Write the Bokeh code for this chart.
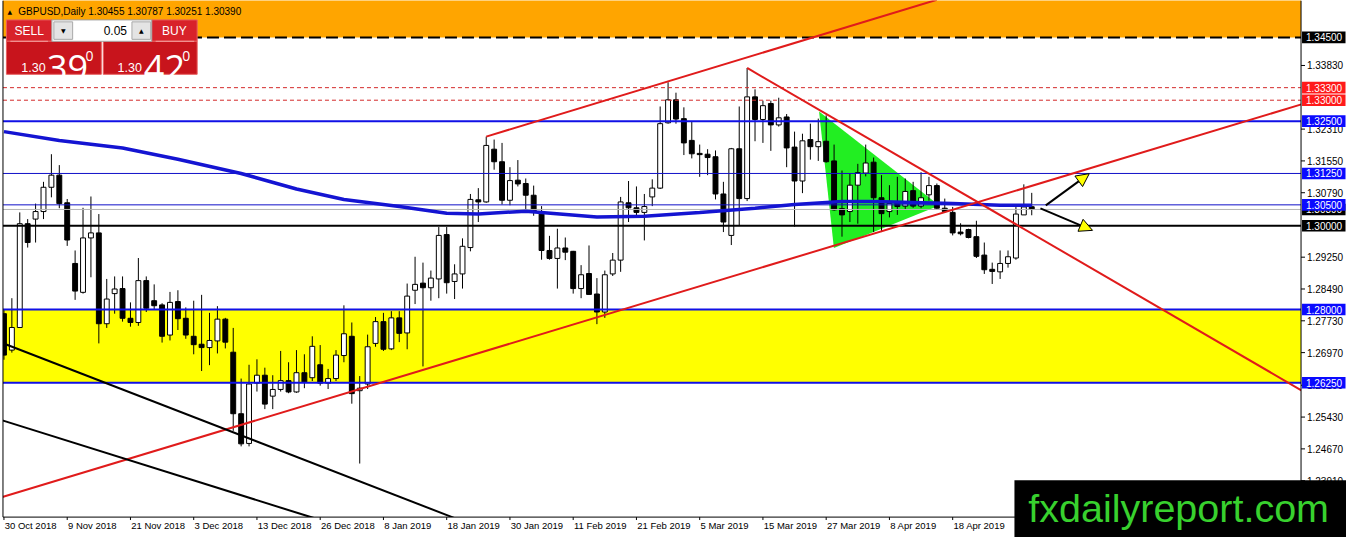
import numpy as np
from bokeh.plotting import figure
from bokeh.models import Range1d, Arrow, NormalHead
from bokeh.core.properties import value
from bokeh.embed import file_html
from bokeh.resources import INLINE

# GBPUSD daily candles, bar 0 = 30 Oct 2018
opens = [1.2790, 1.2703, 1.2757, 1.3005, 1.3016, 1.3034, 1.3092, 1.3121, 1.3055, 1.2910,
         1.2841, 1.2971, 1.2983, 1.2766, 1.2838, 1.2850, 1.2779, 1.2769, 1.2869, 1.2821,
         1.2811, 1.2739, 1.2819, 1.2779, 1.2736, 1.2717, 1.2709, 1.2725, 1.2777, 1.2698,
         1.2551, 1.2480, 1.2624, 1.2643, 1.2593, 1.2609, 1.2630, 1.2603, 1.2649, 1.2637,
         1.2668, 1.2624, 1.2635, 1.2690, 1.2736, 1.2606, 1.2622, 1.2719, 1.2771, 1.2706,
         1.2780, 1.2744, 1.2846, 1.2863, 1.2852, 1.2873, 1.2979, 1.2867, 1.2885, 1.2948,
         1.3062, 1.3057, 1.3183, 1.3153, 1.3061, 1.3109, 1.3101, 1.3073, 1.3028, 1.2941,
         1.2922, 1.2947, 1.2939, 1.2850, 1.2886, 1.2837, 1.2794, 1.2885, 1.2918, 1.3055,
         1.3043, 1.3032, 1.3069, 1.3090, 1.3246, 1.3301, 1.3256, 1.3204, 1.3173, 1.3171,
         1.3165, 1.3076, 1.2977, 1.3184, 1.3065, 1.3308, 1.3254, 1.3292, 1.3241, 1.3260,
         1.3188, 1.3107, 1.3206, 1.3189, 1.3202, 1.3155, 1.3041, 1.3034, 1.3097, 1.3126,
         1.3152, 1.3067, 1.3034, 1.3055, 1.3047, 1.3084, 1.3047, 1.3074, 1.3096, 1.3042,
         1.3032, 1.2985, 1.2991, 1.2974, 1.2930, 1.2896, 1.2890, 1.2910, 1.2923, 1.3026,
         1.30455]
highs = [1.2800, 1.2827, 1.3032, 1.3016, 1.3053, 1.3105, 1.3171, 1.3145, 1.3064, 1.2941,
         1.3043, 1.3070, 1.3028, 1.2873, 1.2879, 1.2879, 1.2817, 1.2923, 1.2879, 1.2860,
         1.2815, 1.2842, 1.2846, 1.2805, 1.2821, 1.2835, 1.2792, 1.2808, 1.2780, 1.2756,
         1.2635, 1.2668, 1.2681, 1.2661, 1.2643, 1.2701, 1.2674, 1.2703, 1.2693, 1.2736,
         1.2715, 1.2658, 1.2703, 1.2810, 1.2769, 1.2641, 1.2740, 1.2782, 1.2792, 1.2796,
         1.2796, 1.2862, 1.2926, 1.2912, 1.2893, 1.2997, 1.2997, 1.2908, 1.2970, 1.3076,
         1.3090, 1.3213, 1.3206, 1.3198, 1.3140, 1.3157, 1.3113, 1.3096, 1.3047, 1.2976,
         1.2993, 1.2972, 1.2940, 1.2906, 1.2953, 1.2875, 1.2893, 1.2935, 1.3069, 1.3107,
         1.3094, 1.3076, 1.3111, 1.3285, 1.3343, 1.3318, 1.3283, 1.3248, 1.3194, 1.3183,
         1.3180, 1.3105, 1.3186, 1.3285, 1.3377, 1.3326, 1.3299, 1.3299, 1.3306, 1.3267,
         1.3225, 1.3220, 1.3244, 1.3256, 1.3264, 1.3194, 1.3132, 1.3125, 1.3148, 1.3194,
         1.3163, 1.3121, 1.3097, 1.3117, 1.3113, 1.3105, 1.3128, 1.3117, 1.3101, 1.3065,
         1.3045, 1.3006, 1.2993, 1.3012, 1.2960, 1.2912, 1.2941, 1.2941, 1.3047, 1.3099,
         1.30787]
lows = [1.2680, 1.2697, 1.2756, 1.2948, 1.2960, 1.3016, 1.3068, 1.3042, 1.2952, 1.2823,
        1.2838, 1.2877, 1.2719, 1.2756, 1.2790, 1.2771, 1.2759, 1.2761, 1.2794, 1.2800,
        1.2721, 1.2726, 1.2751, 1.2730, 1.2693, 1.2653, 1.2667, 1.2695, 1.2707, 1.2510,
        1.2473, 1.2473, 1.2604, 1.2562, 1.2562, 1.2604, 1.2600, 1.2601, 1.2612, 1.2629,
        1.2618, 1.2610, 1.2629, 1.2674, 1.2575, 1.2432, 1.2610, 1.2711, 1.2701, 1.2703,
        1.2722, 1.2705, 1.2813, 1.2664, 1.2821, 1.2827, 1.2838, 1.2825, 1.2850, 1.2939,
        1.3009, 1.3055, 1.3134, 1.3051, 1.3049, 1.3094, 1.3036, 1.3024, 1.2919, 1.2919,
        1.2850, 1.2918, 1.2838, 1.2827, 1.2836, 1.2765, 1.2780, 1.2880, 1.2890, 1.3009,
        1.3024, 1.2965, 1.3047, 1.3088, 1.3244, 1.3244, 1.3169, 1.3161, 1.3117, 1.3121,
        1.3063, 1.2985, 1.2954, 1.3001, 1.3059, 1.3202, 1.3198, 1.3179, 1.3237, 1.3140,
        1.2998, 1.3078, 1.3158, 1.3155, 1.3151, 1.3036, 1.2974, 1.3009, 1.3005, 1.3118,
        1.2985, 1.2985, 1.3020, 1.3026, 1.3039, 1.3043, 1.3042, 1.3060, 1.3039, 1.3032,
        1.2977, 1.2977, 1.2970, 1.2923, 1.2885, 1.2861, 1.2873, 1.2900, 1.2919, 1.3026,
        1.30251]
closes = [1.2691, 1.2757, 1.3005, 1.2960, 1.3034, 1.3092, 1.3121, 1.3053, 1.2966, 1.2844,
          1.2971, 1.2983, 1.2766, 1.2825, 1.2849, 1.2779, 1.2769, 1.2869, 1.2803, 1.2809,
          1.2736, 1.2817, 1.2778, 1.2739, 1.2716, 1.2709, 1.2726, 1.2777, 1.2722, 1.2551,
          1.2479, 1.2622, 1.2643, 1.2574, 1.2609, 1.2630, 1.2603, 1.2649, 1.2627, 1.2712,
          1.2624, 1.2635, 1.2691, 1.2742, 1.2599, 1.2612, 1.2711, 1.2771, 1.2705, 1.2780,
          1.2743, 1.2832, 1.2860, 1.2852, 1.2875, 1.2977, 1.2864, 1.2885, 1.2951, 1.3063,
          1.3057, 1.3192, 1.3153, 1.3061, 1.3108, 1.3100, 1.3073, 1.3035, 1.2941, 1.2922,
          1.2947, 1.2937, 1.2850, 1.2883, 1.2836, 1.2794, 1.2883, 1.2918, 1.3057, 1.3043,
          1.3032, 1.3046, 1.3090, 1.3244, 1.3301, 1.3255, 1.3198, 1.3172, 1.3170, 1.3163,
          1.3076, 1.3009, 1.3184, 1.3065, 1.3308, 1.3254, 1.3287, 1.3241, 1.3258, 1.3186,
          1.3107, 1.3203, 1.3189, 1.3201, 1.3153, 1.3038, 1.3026, 1.3097, 1.3127, 1.3150,
          1.3067, 1.3029, 1.3053, 1.3046, 1.3082, 1.3047, 1.3067, 1.3096, 1.3042, 1.3034,
          1.2983, 1.2981, 1.2972, 1.2927, 1.2895, 1.2891, 1.2910, 1.2926, 1.3028, 1.3045,
          1.30390]

tick_bars = [0, 8, 16, 24, 32, 40, 48, 56, 64, 72, 80, 88, 96, 104, 112, 120]
tick_labels = ["30 Oct 2018", "9 Nov 2018", "21 Nov 2018", "3 Dec 2018", "13 Dec 2018",
               "26 Dec 2018", "8 Jan 2019", "18 Jan 2019", "30 Jan 2019", "11 Feb 2019",
               "21 Feb 2019", "5 Mar 2019", "15 Mar 2019", "27 Mar 2019", "8 Apr 2019",
               "18 Apr 2019"]
price_ticks = [1.3383, 1.3231, 1.3155, 1.3079, 1.2925, 1.2849, 1.2773, 1.2697, 1.2619,
               1.2543, 1.2467, 1.2391]

# moving average (thick blue curve)
ma_bars = [0, 7, 15, 22, 30, 37, 43, 50, 56, 60, 66, 75, 81, 88, 95, 100, 106, 110, 120, 126, 130]
ma_vals = [1.3225, 1.3204, 1.3186, 1.3159, 1.3125, 1.3088, 1.3063, 1.3046, 1.3030, 1.3028,
           1.3035, 1.3021, 1.3023, 1.3032, 1.3042, 1.3051, 1.3058, 1.3058, 1.3053, 1.3049, 1.3049]

# horizontal levels
orange_floor = 1.345
red_dashed = [1.333, 1.330]
blue_thick = [1.325, 1.280, 1.2625]
blue_thin = [1.3125, 1.305]
round_level = 1.300
bid = 1.3039
box_levels = [1.345, 1.333, 1.330, 1.325, 1.3125, 1.3039, 1.305, 1.300, 1.280, 1.2625]
box_colors = ["black", "#ff1a1a", "#ff1a1a", "#0a0aff", "#0a0aff", "black", "#0a0aff",
              "black", "#0a0aff", "#0a0aff"]


def bx(px):
    # pixel of the terminal window -> bar units
    return (px - 3.5) / 8.0


def py(y):
    # pixel of the terminal window -> price
    return 1.30 - (y - 232) * 0.000232


def dp(n):
    # vertical size in pixels -> price
    return n * 0.000232


# chart area inside the terminal window
CL, CR, CB = bx(2.5), bx(1316), py(532)

p = figure(width=1346, height=537, x_range=Range1d(bx(0), bx(1362)),
           y_range=Range1d(py(553), py(0)), x_axis_location=None, y_axis_location=None,
           output_backend="svg", toolbar_location=None,
           min_border_left=0, min_border_top=0, min_border_right=0, min_border_bottom=0)
p.grid.visible = False
p.outline_line_color = None
p.background_fill_color = "white"

# zones
p.quad(left=CL, right=CR, bottom=orange_floor, top=py(-5), fill_color="#ffa500", line_color=None)
p.quad(left=CL, right=CR, bottom=blue_thick[2], top=blue_thick[1],
       fill_color="#ffff00", line_color=None)
p.line([CL, CR], [orange_floor, orange_floor], line_color="black", line_width=2,
       line_dash="12 5")

# green triangle
p.patch([bx(828.3), bx(843.3), bx(950)], [py(114.3), py(255), py(211)],
        fill_color="#22ee22", line_color=None)

# candles
idx = np.arange(len(opens))
o, h, l, c = map(np.array, (opens, highs, lows, closes))
up = c >= o
p.segment(idx, l, idx, h, line_color="black", line_width=1)
p.vbar(x=idx[up], bottom=o[up], top=c[up], width=0.62, fill_color="white", line_color="black")
p.vbar(x=idx[~up], bottom=c[~up], top=o[~up], width=0.62, fill_color="black", line_color="black")

# horizontal lines
for lv in red_dashed:
    p.line([CL, CR], [lv, lv], line_color="#d42a2a", line_width=1, line_dash="4 3")
for lv in blue_thick:
    p.line([CL, CR], [lv, lv], line_color="#1010e6", line_width=2)
for lv in blue_thin:
    p.line([CL, CR], [lv, lv], line_color="#1010c8", line_width=1)
p.line([CL, CR], [bid, bid], line_color="#b4b4b4", line_width=1)
p.line([CL, CR], [round_level, round_level], line_color="black", line_width=2)

p.line(ma_bars, ma_vals, line_color="#1414d2", line_width=3.5)

# trend lines
red = "#e01b1b"
p.line([-0.2, 164.1], [1.2352, 1.3290], line_color=red, line_width=2)
p.line([61, 118], [1.3213, 1.3540], line_color=red, line_width=2)
p.line([94, 164.1], [1.3377, 1.2607], line_color=red, line_width=2)
p.line([-0.2, 57.5], [1.2720, 1.2298], line_color="black", line_width=2)
p.line([-0.2, 39.5], [1.2535, 1.2300], line_color="black", line_width=2)

head = dict(size=13, fill_color="#ffff00", line_color="black", line_width=1)
p.add_layout(Arrow(end=NormalHead(**head), x_start=bx(1057.7), y_start=py(211),
                   x_end=bx(1101.7), y_end=py(178.3), line_color="black", line_width=2))
p.add_layout(Arrow(end=NormalHead(**head), x_start=bx(1052.3), y_start=py(214),
                   x_end=bx(1105), y_end=py(236.7), line_color="black", line_width=2))

# keep the price and date scales clear of the chart marks
p.quad(left=[CR, bx(-10), bx(-10)], right=[bx(1380), bx(1380), CL],
       top=[py(-10), CB, py(-10)], bottom=[py(570), py(570), py(570)],
       fill_color="white", line_color=None)
p.line([CL, CL], [CB, py(0)], line_color="black", line_width=1)
p.line([CR, CR], [CB, py(0)], line_color="black", line_width=1)
p.line([CL, CR], [CB, CB], line_color="black", line_width=1)

font = value("Liberation Sans")

# price scale
p.segment([CR] * len(price_ticks), price_ticks, [bx(1320)] * len(price_ticks), price_ticks,
          line_color="black", line_width=1)
p.text([bx(1322)] * len(price_ticks), price_ticks, ["%.5f" % t for t in price_ticks],
       text_font=font, text_font_size="10px", text_color="black", text_baseline="middle")
for lv, col in zip(box_levels, box_colors):
    p.quad(left=bx(1317), right=bx(1361), top=lv + dp(6), bottom=lv - dp(6),
           fill_color=col, line_color=None)
    p.text([bx(1321)], [lv], ["%.5f" % lv], text_font=font, text_font_size="10px",
           text_color="white", text_baseline="middle")

# date scale
p.segment(tick_bars, [CB] * len(tick_bars), tick_bars, [py(535)] * len(tick_bars),
          line_color="black", line_width=1)
p.text([b + 0.1 for b in tick_bars], [py(541)] * len(tick_bars), tick_labels,
       text_font=font, text_font_size="9.5px", text_color="black", text_baseline="middle")

# one-click trading panel
p.quad(left=[bx(6), bx(153)], right=[bx(52), bx(199)], top=[py(20)] * 2, bottom=[py(42)] * 2,
       fill_color="#d8222a", line_color="#e86060")
p.quad(left=[bx(6), bx(104)], right=[bx(102), bx(199)], top=[py(42)] * 2, bottom=[py(76)] * 2,
       fill_color="#c8141c", line_color="#e86060")
p.quad(left=bx(52), right=bx(153), top=py(20), bottom=py(42), fill_color="white",
       line_color="#a0a0a0")
p.quad(left=[bx(54), bx(133)], right=[bx(73), bx(152)], top=[py(22)] * 2, bottom=[py(40)] * 2,
       fill_color="#e4e4e4", line_color="#a8a8a8")
p.segment([bx(10), bx(157)], [py(42)] * 2, [bx(48), bx(196)], [py(42)] * 2,
          line_color="#f4a0a0", line_width=1)
p.text([bx(29), bx(176)], [py(31)] * 2, ["SELL", "BUY"], text_font=font, text_font_size="12px",
       text_color="white", text_align="center", text_baseline="middle")
p.text([bx(63.5), bx(142.5)], [py(31)] * 2, ["▼", "▲"], text_font=value("DejaVu Sans"),
       text_font_size="6px", text_color="black", text_align="center", text_baseline="middle")
p.text([bx(128)], [py(31)], ["0.05"], text_font=font, text_font_size="12px",
       text_color="black", text_align="right", text_baseline="middle")
p.text([bx(21), bx(118.5)], [py(69)] * 2, ["1.30", "1.30"], text_font=font,
       text_font_size="12.5px", text_color="white", text_baseline="alphabetic")
p.text([bx(47), bx(145)], [py(69)] * 2, ["39", "42"], text_font=value("Open Sans"),
       text_font_size="36px", text_color="white", text_baseline="alphabetic")
p.text([bx(86), bx(184)], [py(57)] * 2, ["0", "0"], text_font=value("Open Sans"),
       text_font_size="14px", text_color="white", text_baseline="alphabetic")
p.text([bx(7)], [py(11)], ["▲"], text_font=value("DejaVu Sans"), text_font_size="6px",
       text_color="black", text_baseline="middle")
p.text([bx(18)], [py(11)], ["GBPUSD,Daily  1.30455 1.30787 1.30251 1.30390"], text_font=font,
       text_font_size="10px", text_color="black", text_baseline="middle")

# site logo in the corner
p.quad(left=bx(1026), right=bx(1380), top=py(494), bottom=py(570), fill_color="black",
       line_color=None)
p.text([bx(1040)], [py(523)], ["fxdailyreport.com"], text_font=font, text_font_size="39.5px",
       text_color="#38d12e", text_baseline="middle")

open("out.html", "w").write(file_html(p, INLINE))
